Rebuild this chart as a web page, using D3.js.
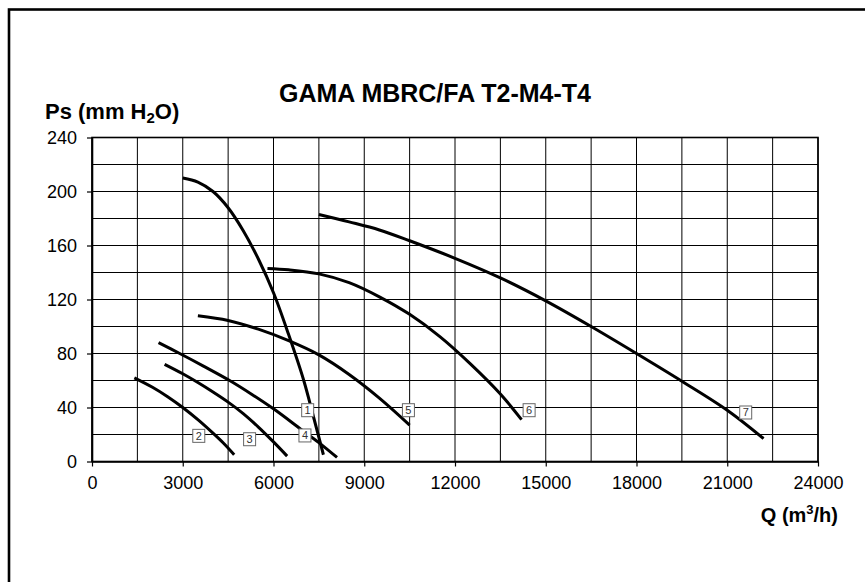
<!DOCTYPE html>
<html>
<head>
<meta charset="utf-8">
<script src="https://d3js.org/d3.v7.min.js"></script>
<style>
  body { margin: 0; background: #fff; }
  svg { display: block; font-family: "Liberation Sans", Arial, sans-serif; }
</style>
</head>
<body>
<script>
'use strict';

// curve data: Q (m3/h) and Ps (mm H2O)
const curve1Q = [3000, 3500, 4000, 4500, 5000, 5500, 6000, 6500, 7000, 7300, 7650];
const curve1Ps = [210, 207, 200, 188, 171, 150, 125, 94, 60, 35, 5];
const curve2Q = [1400, 2000, 2500, 3000, 3500, 4000, 4350, 4700];
const curve2Ps = [62, 55, 48, 40, 31, 21, 13.5, 5];
const curve3Q = [2400, 3000, 3500, 4000, 4500, 5000, 5500, 6000, 6450];
const curve3Ps = [72, 65, 58.5, 51.5, 44, 35.5, 25.5, 14.5, 4];
const curve4Q = [2200, 2900, 3700, 4550, 5300, 6000, 6900, 7500, 8100];
const curve4Ps = [88, 80, 70.5, 60, 49.5, 39, 24, 14, 3];
const curve5Q = [3500, 4500, 5500, 6500, 7500, 8500, 9500, 10500];
const curve5Ps = [108, 104.5, 98, 89.5, 79, 64.5, 47, 27];
const curve6Q = [5800, 6500, 7500, 8500, 9500, 10500, 11500, 12500, 13500, 14200];
const curve6Ps = [143, 142, 139, 132.5, 122, 109, 92.5, 72.5, 50, 31];
const curve7Q = [7500, 8500, 9500, 10500, 12000, 13500, 15000, 16500, 18000, 19500, 21000, 22200];
const curve7Ps = [183, 177.5, 171.5, 163.5, 150.5, 136, 119, 100, 80, 59.5, 38, 17];

// numbered tags next to each curve
const tagNames = ["1", "2", "3", "4", "5", "6", "7"];
const tagQ = [7130, 3530, 5210, 7040, 10460, 14450, 21610];
const tagPs = [38, 19, 16.5, 19.3, 38, 38, 36.3];

// axis ticks
const xTicks = [0, 3000, 6000, 9000, 12000, 15000, 18000, 21000, 24000];
const yTicks = [0, 40, 80, 120, 160, 200, 240];
const xGrid = d3.range(0, 24001, 1500);
const yGrid = d3.range(0, 241, 20);

const curves = [
  [curve1Q, curve1Ps], [curve2Q, curve2Ps], [curve3Q, curve3Ps], [curve4Q, curve4Ps],
  [curve5Q, curve5Ps], [curve6Q, curve6Ps], [curve7Q, curve7Ps]
];

const svg = d3.select('body').append('svg')
  .attr('width', 865)
  .attr('height', 582);

// outer frame (runs off the right and bottom edges)
svg.append('rect')
  .attr('x', 9).attr('y', 9.5)
  .attr('width', 900).attr('height', 620)
  .attr('fill', 'none')
  .attr('stroke', '#000')
  .attr('stroke-width', 2.6);

const xScale = d3.scaleLinear().domain([0, 24000]).range([92, 818]);
const yScale = d3.scaleLinear().domain([0, 240]).range([461.5, 137.5]);

// grid
svg.append('g').selectAll('line')
  .data(xGrid)
  .enter().append('line')
    .attr('x1', d => xScale(d)).attr('x2', d => xScale(d))
    .attr('y1', yScale(0)).attr('y2', yScale(240))
    .attr('stroke', '#000').attr('stroke-width', 1);

svg.append('g').selectAll('line')
  .data(yGrid)
  .enter().append('line')
    .attr('x1', xScale(0)).attr('x2', xScale(24000))
    .attr('y1', d => yScale(d)).attr('y2', d => yScale(d))
    .attr('stroke', '#000').attr('stroke-width', 1);

// plot border
svg.append('rect')
  .attr('x', xScale(0)).attr('y', yScale(240))
  .attr('width', xScale(24000) - xScale(0))
  .attr('height', yScale(0) - yScale(240))
  .attr('fill', 'none').attr('stroke', '#000').attr('stroke-width', 1.6);

// axes
const xAxis = d3.axisBottom(xScale).tickValues(xTicks).tickFormat(d3.format('d'))
  .tickSize(5).tickPadding(10).tickSizeOuter(0);
const gx = svg.append('g')
  .attr('transform', `translate(0, ${yScale(0)})`)
  .call(xAxis);

const yAxis = d3.axisLeft(yScale).tickValues(yTicks).tickFormat(d3.format('d'))
  .tickSize(5).tickPadding(10).tickSizeOuter(0);
const gy = svg.append('g')
  .attr('transform', `translate(${xScale(0)}, 0)`)
  .call(yAxis);

[gx, gy].forEach(g => {
  g.select('.domain').attr('stroke', '#000').attr('stroke-width', 1.6);
  g.selectAll('.tick line').attr('stroke', '#000').attr('stroke-width', 1.2);
  g.selectAll('.tick text')
    .attr('fill', '#000')
    .style('font-size', '18px')
    .style('font-family', '"Liberation Sans", Arial, sans-serif');
});
gy.selectAll('.tick text').attr('dy', '0.36em');

// curves
const line = d3.line()
  .x(d => xScale(d[0]))
  .y(d => yScale(d[1]))
  .curve(d3.curveCatmullRom.alpha(0.5));

curves.forEach(c => {
  const pts = c[0].map((q, i) => [q, c[1][i]]);
  svg.append('path')
    .datum(pts)
    .attr('d', line)
    .attr('fill', 'none')
    .attr('stroke', '#000')
    .attr('stroke-width', 3)
    .attr('stroke-linejoin', 'round');
});

// curve tags
tagNames.forEach((name, i) => {
  const cx = xScale(tagQ[i]);
  const cy = yScale(tagPs[i]);
  svg.append('rect')
    .attr('x', cx - 6).attr('y', cy - 6.5)
    .attr('width', 12).attr('height', 13)
    .attr('fill', '#fff')
    .attr('stroke', '#666').attr('stroke-width', 1);
  svg.append('text')
    .attr('x', cx).attr('y', cy + 4)
    .attr('text-anchor', 'middle')
    .style('font-size', '11px')
    .attr('fill', '#333')
    .text(name);
});

// title and axis labels
svg.append('text')
  .attr('x', 435).attr('y', 102)
  .attr('text-anchor', 'middle')
  .style('font-size', '25px').style('font-weight', 'bold')
  .text('GAMA MBRC/FA T2-M4-T4');

const yLab = svg.append('text')
  .attr('x', 45).attr('y', 119)
  .style('font-size', '22px').style('font-weight', 'bold');
yLab.append('tspan').text('Ps (mm H');
yLab.append('tspan').attr('dy', 4).style('font-size', '15px').text('2');
yLab.append('tspan').attr('dy', -4).text('O)');

const xLab = svg.append('text')
  .attr('x', 838).attr('y', 522)
  .attr('text-anchor', 'end')
  .style('font-size', '20px').style('font-weight', 'bold');
xLab.append('tspan').text('Q (m');
xLab.append('tspan').attr('dy', -8).style('font-size', '13px').text('3');
xLab.append('tspan').attr('dy', 8).text('/h)');
</script>
</body>
</html>
